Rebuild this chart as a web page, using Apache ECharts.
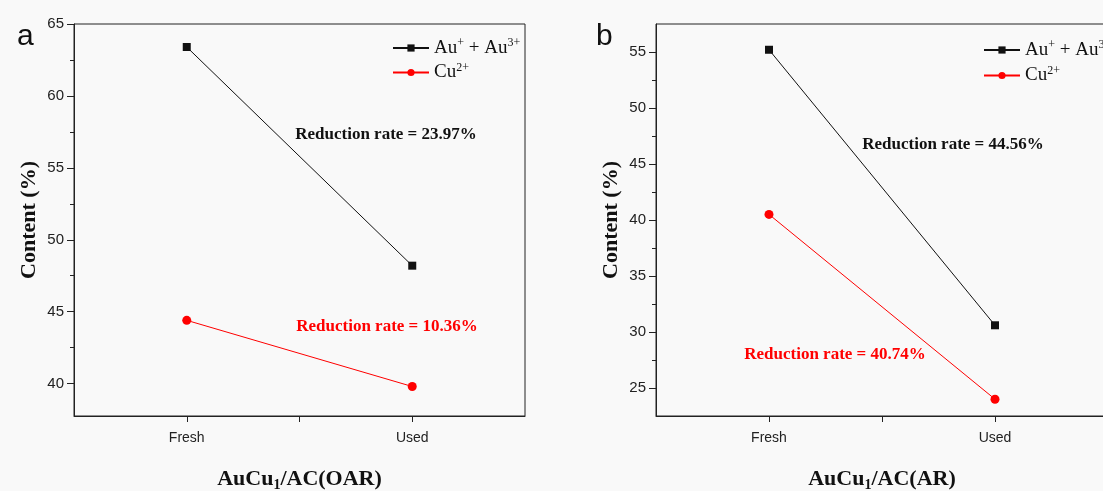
<!DOCTYPE html>
<html>
<head>
<meta charset="utf-8">
<script src="https://cdn.jsdelivr.net/npm/echarts@6/dist/echarts.min.js"></script>
<style>
  html, body { margin: 0; padding: 0; background: #f9f9f9; }
  #main { width: 1103px; height: 491px; }
</style>
</head>
<body>
<div id="main"></div>
<script>
// data
var categories = ['Fresh', 'Used'];
var catPos = [1, 2];
var auA = [63.4, 48.2];   // Au+ + Au3+, AuCu1/AC(OAR)
var cuA = [44.4, 39.8];   // Cu2+, AuCu1/AC(OAR)
var auB = [55.2, 30.6];   // Au+ + Au3+, AuCu1/AC(AR)
var cuB = [40.5, 24.0];   // Cu2+, AuCu1/AC(AR)
var yTicksA = [40, 45, 50, 55, 60, 65];
var yMinorA = [42.5, 47.5, 52.5, 57.5, 62.5];
var yTicksB = [25, 30, 35, 40, 45, 50, 55];
var yMinorB = [27.5, 32.5, 37.5, 42.5, 47.5, 52.5];
var rateA = ['Reduction rate = 23.97%', 'Reduction rate = 10.36%'];
var rateB = ['Reduction rate = 44.56%', 'Reduction rate = 40.74%'];

function pts(vals) {
    return vals.map(function(v, i) { return [catPos[i], v]; });
}

var serif = '"Liberation Serif", "Times New Roman", serif';
var sans = '"Liberation Sans", Arial, sans-serif';
var supRich = {
    n: { fontFamily: serif, fontSize: 19, color: '#111' },
    s: { fontFamily: serif, fontSize: 12, color: '#111', verticalAlign: 'top', padding: [0, 0, 10, 0] }
};
var titleRich = {
    t: { fontFamily: serif, fontSize: 22, fontWeight: 'bold', color: '#111' },
    sub: { fontFamily: serif, fontSize: 14, fontWeight: 'bold', color: '#111', padding: [12, 0, 0, 0] }
};

function xAxisFor(gi, name) {
    return {
        type: 'value', gridIndex: gi, min: 0.5, max: 2.5,
        axisLine: { lineStyle: { color: '#222', width: 1 } },
        axisTick: { customValues: [1, 1.5, 2], length: 6, lineStyle: { color: '#222' } },
        axisLabel: {
            customValues: catPos, margin: 15, color: '#222', fontSize: 14, fontFamily: sans,
            formatter: function(v) { return categories[catPos.indexOf(v)] || ''; }
        },
        splitLine: { show: false },
        name: name, nameLocation: 'middle', nameGap: 50,
        nameTextStyle: { rich: titleRich }
    };
}

function yAxisFor(gi, min, max, ticks) {
    return {
        type: 'value', gridIndex: gi, min: min, max: max, position: 'left',
        axisLine: { show: true, lineStyle: { color: '#222', width: 1 } },
        axisTick: { show: true, customValues: ticks, length: 7, lineStyle: { color: '#222' } },
        axisLabel: { customValues: ticks, margin: 10, color: '#222', fontSize: 15, fontFamily: sans },
        splitLine: { show: false },
        name: 'Content (%)', nameLocation: 'middle', nameGap: 34,
        nameTextStyle: { fontFamily: serif, fontSize: 22, fontWeight: 'bold', color: '#111' }
    };
}

function yMinorFor(gi, min, max, ticks) {
    return {
        type: 'value', gridIndex: gi, min: min, max: max, position: 'left',
        axisLine: { show: false },
        axisTick: { show: true, customValues: ticks, length: 4, lineStyle: { color: '#222' } },
        axisLabel: { show: false },
        splitLine: { show: false }
    };
}

function lineSeries(name, data, xi, yi, color, symbol, size) {
    return {
        name: name, type: 'line', xAxisIndex: xi, yAxisIndex: yi,
        data: pts(data), symbol: symbol, symbolSize: size,
        lineStyle: { color: color, width: 1 },
        itemStyle: { color: color },
        z: 3
    };
}

function legendFor(left, top, gap) {
    return {
        left: left, top: top, orient: 'vertical', itemGap: gap, padding: 0,
        itemWidth: 36, itemHeight: 9,
        data: ['Au', 'Cu'],
        formatter: function(n) {
            return n === 'Au' ? '{n|Au}{s|+}{n| + Au}{s|3+}' : '{n|Cu}{s|2+}';
        },
        textStyle: { rich: supRich }
    };
}

var myChart = echarts.init(document.getElementById('main'));

var option = {
    backgroundColor: '#f9f9f9',
    animation: false,
    grid: [
        { left: 74, top: 24, width: 451, height: 392, outerBoundsMode: 'none', containLabel: false,
          show: true, borderColor: '#222', borderWidth: 1, backgroundColor: 'transparent' },
        { left: 656, top: 24, width: 452, height: 392, outerBoundsMode: 'none', containLabel: false,
          show: true, borderColor: '#222', borderWidth: 1, backgroundColor: 'transparent' }
    ],
    xAxis: [
        xAxisFor(0, '{t|AuCu}{sub|1}{t|/AC(OAR)}'),
        xAxisFor(1, '{t|AuCu}{sub|1}{t|/AC(AR)}')
    ],
    yAxis: [
        yAxisFor(0, 37.75, 65, yTicksA),
        yMinorFor(0, 37.75, 65, yMinorA),
        yAxisFor(1, 22.5, 57.5, yTicksB),
        yMinorFor(1, 22.5, 57.5, yMinorB)
    ],
    legend: [legendFor(392, 37, 4), legendFor(983, 39, 5)],
    series: [
        lineSeries('Au', auA, 0, 0, '#111', 'rect', 8),
        lineSeries('Cu', cuA, 0, 0, '#ff0000', 'circle', 9),
        lineSeries('Au', auB, 1, 2, '#111', 'rect', 8),
        lineSeries('Cu', cuB, 1, 2, '#ff0000', 'circle', 9)
    ],
    graphic: [
        { type: 'text', left: 17, top: 22, style: { text: 'a', font: '30px ' + sans, fill: '#111' } },
        { type: 'text', left: 596, top: 22, style: { text: 'b', font: '30px ' + sans, fill: '#111' } },
        { type: 'text', x: 386, y: 135, style: { text: rateA[0], font: 'bold 17px ' + serif, fill: '#111', align: 'center', verticalAlign: 'middle' } },
        { type: 'text', x: 387, y: 327, style: { text: rateA[1], font: 'bold 17px ' + serif, fill: '#ff0000', align: 'center', verticalAlign: 'middle' } },
        { type: 'text', x: 953, y: 145, style: { text: rateB[0], font: 'bold 17px ' + serif, fill: '#111', align: 'center', verticalAlign: 'middle' } },
        { type: 'text', x: 835, y: 355, style: { text: rateB[1], font: 'bold 17px ' + serif, fill: '#ff0000', align: 'center', verticalAlign: 'middle' } }
    ]
};

myChart.setOption(option);
</script>
</body>
</html>
